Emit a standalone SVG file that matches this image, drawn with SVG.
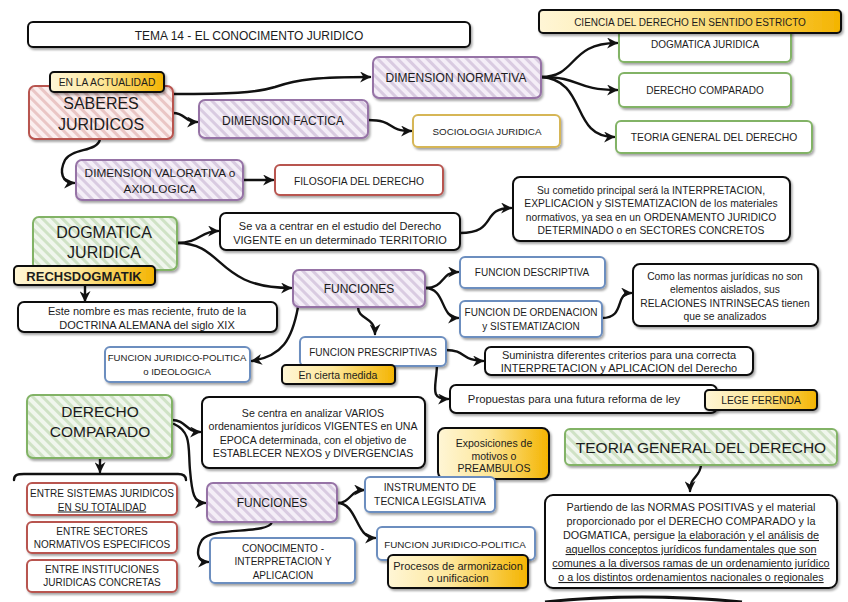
<svg xmlns="http://www.w3.org/2000/svg" width="848" height="602" viewBox="0 0 848 602">
<defs>
<style>
rect{stroke-width:2}
.sh{filter:url(#sh)}
.red{fill:url(#hr);stroke:#b85450}
.pur{fill:url(#hp);stroke:#9673a6}
.grn{fill:url(#hg);stroke:#82b366}
.gw{fill:#fff;stroke:#82b366}
.rw{fill:#fff;stroke:#b85450}
.bw{fill:#fff;stroke:#6c8ebf}
.kw{fill:#fff;stroke:#111}
.yw{fill:#fff;stroke:#d6b656}
.yl{fill:url(#gy);stroke:#111}
text{font-family:"Liberation Sans",Arial,sans-serif;fill:#1c1c1c;text-anchor:middle}
.u{text-decoration:underline}
.c{fill:none;stroke:#111;stroke-width:2.4;stroke-linecap:round}
.a{marker-end:url(#ar)}
</style>
<filter id="sh" x="-10%" y="-20%" width="130%" height="160%"><feDropShadow dx="1.5" dy="2" stdDeviation="1.2" flood-color="#000" flood-opacity="0.35"/></filter>
<pattern id="hr" width="7" height="7" patternUnits="userSpaceOnUse" patternTransform="rotate(-45)"><rect width="7" height="7" fill="#fbeeee" stroke="none"/><rect width="3" height="7" fill="#eac6c5" stroke="none"/></pattern>
<pattern id="hp" width="7" height="7" patternUnits="userSpaceOnUse" patternTransform="rotate(-45)"><rect width="7" height="7" fill="#f4eef7" stroke="none"/><rect width="3" height="7" fill="#d9cbe1" stroke="none"/></pattern>
<pattern id="hg" width="7" height="7" patternUnits="userSpaceOnUse" patternTransform="rotate(-45)"><rect width="7" height="7" fill="#f0f6ed" stroke="none"/><rect width="3" height="7" fill="#cfe2c5" stroke="none"/></pattern>
<linearGradient id="gy" x1="0" y1="0" x2="1" y2="0"><stop offset="0" stop-color="#fff6d6"/><stop offset="0.45" stop-color="#fde79a"/><stop offset="1" stop-color="#f4b400"/></linearGradient>
<marker id="ar" viewBox="0 0 10 10" refX="9" refY="5" markerWidth="11" markerHeight="11" markerUnits="userSpaceOnUse" orient="auto"><path d="M0,0 L10,5 L0,10 L3,5 Z" fill="#111"/></marker>
</defs>
<rect x="0" y="0" width="848" height="602" fill="#fff" stroke="none"/>

<g id="connectors">
<path class="c a" d="M173,94 C230,94 255,93 275,87 C298,79 320,77 370,77"/>
<path class="c a" d="M173,113 C186,113 184,122 197,122"/>
<path class="c a" d="M100,139 C98,152 72,148 65,160 C59,172 62,183 74,183"/>
<path class="c a" d="M368,120 C396,120 386,131 411,131"/>
<path class="c a" d="M243,180 L273,180"/>
<path class="c a" d="M541,77 C578,77 568,43 617,43"/>
<path class="c a" d="M541,77 C582,77 574,90 617,90"/>
<path class="c a" d="M541,77 C588,80 570,137 614,137"/>
<path class="c a" d="M177,243 C200,243 200,231 218,231"/>
<path class="c a" d="M177,243 C225,243 215,288 291,288"/>
<path class="c a" d="M85,285 L85,301"/>
<path class="c a" d="M460,233 C498,233 480,208 511,208"/>
<path class="c a" d="M425,288 C446,288 440,272 458,272"/>
<path class="c a" d="M425,288 C446,288 440,318 458,318"/>
<path class="c a" d="M358,307 C358,320 375,316 375,334"/>
<path class="c a" d="M298,307 C292,340 282,356 252,361"/>
<path class="c a" d="M602,318 C626,318 614,293 631,293"/>
<path class="c a" d="M446,350 C466,350 462,361 483,361"/>
<path class="c a" d="M437,363 C437,386 428,399 448,399"/>
<path class="c a" d="M172,420 C186,420 186,432 200,432"/>
<path class="c a" d="M174,424 C192,432 188,448 190,470 C192,494 194,503 205,503"/>
<path class="c a" d="M100,459 L100,472"/>
<path class="c" d="M14,480 C14,475 17,474 24,474 L178,474 C184,474 186,476 186,480"/>
<path class="c a" d="M337,503 C351,503 350,490 364,490"/>
<path class="c a" d="M337,503 C358,503 355,538 375,538"/>
<path class="c a" d="M272,522 C268,535 212,526 202,540 C196,550 196,562 208,562"/>
<path class="c a" d="M701,465 C700,478 690,476 690,491"/>
<path d="M545,602 Q640,592 742,602" fill="none" stroke="#111" stroke-width="3"/>
</g>

<g id="title"><rect class="kw sh" x="28" y="22" width="442" height="25" rx="5"/><text x="249" y="39.5" font-size="12">TEMA 14 - EL CONOCIMENTO JURIDICO</text></g>

<g id="dogmatica-small"><rect class="gw sh" x="619" y="28" width="172" height="34" rx="5"/><text x="705" y="48" font-size="10">DOGMATICA JURIDICA</text></g>
<g id="ciencia"><rect class="yl sh" x="539" y="10" width="302" height="23" rx="4"/><text x="690" y="25.5" font-size="10">CIENCIA DEL DERECHO EN SENTIDO ESTRICTO</text></g>
<g id="derecho-comparado-small"><rect class="gw sh" x="619" y="73" width="172" height="34" rx="5"/><text x="705" y="93.5" font-size="10">DERECHO COMPARADO</text></g>
<g id="teoria-small"><rect class="gw sh" x="616" y="121" width="196" height="32" rx="5"/><text x="714" y="140.5" font-size="10.3">TEORIA GENERAL DEL DERECHO</text></g>

<g id="dim-normativa"><rect class="pur sh" x="373" y="57" width="168" height="41" rx="6"/><text x="456" y="82" font-size="12">DIMENSION NORMATIVA</text></g>

<g id="saberes"><rect class="red sh" x="29" y="86" width="144" height="53" rx="6"/><text x="101" y="108.5" font-size="16">SABERES</text><text x="101" y="129.5" font-size="16">JURIDICOS</text></g>
<g id="en-la-actualidad"><rect class="yl sh" x="50" y="72" width="114" height="20" rx="4"/><text x="107" y="86" font-size="10.3">EN LA ACTUALIDAD</text></g>

<g id="dim-factica"><rect class="pur sh" x="199" y="100" width="169" height="38" rx="6"/><text x="283" y="124.5" font-size="12">DIMENSION FACTICA</text></g>
<g id="sociologia"><rect class="yw sh" x="413" y="115" width="147" height="32" rx="5"/><text x="487" y="134.5" font-size="9.8">SOCIOLOGIA JURIDICA</text></g>

<g id="dim-valorativa"><rect class="pur sh" x="76" y="160" width="167" height="40" rx="6"/><text x="160" y="176.5" font-size="11.8">DIMENSION VALORATIVA o</text><text x="160" y="192.5" font-size="11.8">AXIOLOGICA</text></g>
<g id="filosofia"><rect class="rw sh" x="275" y="165" width="168" height="30" rx="5"/><text x="359" y="184.5" font-size="10.3">FILOSOFIA DEL DERECHO</text></g>

<g id="dogmatica-juridica"><rect class="grn sh" x="33" y="217" width="144" height="53" rx="6"/><text x="104" y="237.5" font-size="16">DOGMATICA</text><text x="104" y="257.5" font-size="16">JURIDICA</text></g>
<g id="rechsdogmatik"><rect class="yl sh" x="14" y="266" width="141" height="19" rx="4"/><text x="84" y="280.5" font-size="13" font-weight="bold">RECHSDOGMATIK</text></g>
<g id="este-nombre"><rect class="kw sh" x="18" y="302" width="259" height="30" rx="6"/><text x="147" y="314.5" font-size="11">Este nombre es mas reciente, fruto de la</text><text x="147" y="328.5" font-size="11">DOCTRINA ALEMANA del siglo XIX</text></g>

<g id="se-va"><rect class="kw sh" x="220" y="213" width="240" height="37" rx="6"/><text x="340" y="230" font-size="11">Se va a centrar en el estudio del Derecho</text><text x="340" y="244" font-size="11">VIGENTE en un determinado TERRITORIO</text></g>
<g id="su-cometido"><rect class="kw sh" x="513" y="177" width="277" height="64" rx="7"/><text x="651" y="194" font-size="10.3">Su cometido principal será la INTERPRETACION,</text><text x="651" y="207.3" font-size="10.3">EXPLICACION y SISTEMATIZACION de los materiales</text><text x="651" y="220.6" font-size="10.3">normativos, ya sea en un ORDENAMENTO JURIDICO</text><text x="651" y="233.9" font-size="10.3">DETERMINADO o en SECTORES CONCRETOS</text></g>

<g id="funciones-1"><rect class="pur sh" x="293" y="270" width="132" height="37" rx="6"/><text x="359" y="292.5" font-size="12">FUNCIONES</text></g>
<g id="funcion-descriptiva"><rect class="bw sh" x="460" y="257" width="145" height="31" rx="5"/><text x="532" y="276" font-size="10">FUNCION DESCRIPTIVA</text></g>
<g id="funcion-ordenacion"><rect class="bw sh" x="460" y="301" width="142" height="36" rx="5"/><text x="531" y="316" font-size="10">FUNCION DE ORDENACION</text><text x="531" y="330" font-size="10">y SISTEMATIZACION</text></g>
<g id="como-las-normas"><rect class="kw sh" x="633" y="264" width="185" height="62" rx="7"/><text x="725" y="280" font-size="10.3">Como las normas jurídicas no son</text><text x="725" y="293.3" font-size="10.3">elementos aislados, sus</text><text x="725" y="306.6" font-size="10.3">RELACIONES INTRINSECAS tienen</text><text x="725" y="319.9" font-size="10.3">que se analizados</text></g>

<g id="funcion-juridico-politica-1"><rect class="bw sh" x="105" y="347" width="145" height="35" rx="5"/><text x="177" y="361" font-size="9.6">FUNCION JURIDICO-POLITICA</text><text x="177" y="375" font-size="9.6">o IDEOLOGICA</text></g>
<g id="funcion-prescriptivas"><rect class="bw sh" x="300" y="337" width="146" height="29" rx="5"/><text x="373" y="355.5" font-size="10">FUNCION PRESCRIPTIVAS</text></g>
<g id="en-cierta-medida"><rect class="yl sh" x="282" y="365" width="113" height="19" rx="4"/><text x="338" y="378.5" font-size="10.5">En cierta medida</text></g>
<g id="suministra"><rect class="kw sh" x="485" y="347" width="268" height="28" rx="6"/><text x="619" y="358.5" font-size="11">Suministra diferentes criterios para una correcta</text><text x="619" y="371.5" font-size="11">INTERPRETACION y APLICACION del Derecho</text></g>
<g id="propuestas"><rect class="kw sh" x="450" y="385" width="267" height="28" rx="6"/><text x="574" y="403" font-size="11.3">Propuestas para una futura reforma de ley</text></g>
<g id="lege-ferenda"><rect class="yl sh" x="705" y="390" width="112" height="20" rx="4"/><text x="761" y="403.5" font-size="10.3">LEGE FERENDA</text></g>

<g id="derecho-comparado"><rect class="grn sh" x="27" y="395" width="145" height="63" rx="6"/><text x="100" y="417" font-size="15.5">DERECHO</text><text x="100" y="437" font-size="15.5">COMPARADO</text></g>
<g id="se-centra"><rect class="kw sh" x="202" y="397" width="223" height="71" rx="7"/><text x="313" y="416.5" font-size="10.6">Se centra en analizar VARIOS</text><text x="313" y="430" font-size="10.6">ordenamientos jurídicos VIGENTES en UNA</text><text x="313" y="443.5" font-size="10.6">EPOCA determinada, con el objetivo de</text><text x="313" y="457" font-size="10.6">ESTABLECER NEXOS y DIVERGENCIAS</text></g>
<g id="exposiciones"><rect class="yl sh" x="438" y="428" width="111" height="51" rx="7"/><text x="494" y="446.5" font-size="10.5">Exposiciones de</text><text x="494" y="459.5" font-size="10.5">motivos o</text><text x="494" y="472" font-size="10.5">PREAMBULOS</text></g>
<g id="teoria-general"><rect class="grn sh" x="565" y="429" width="272" height="36" rx="5"/><text x="701" y="452.5" font-size="15.5">TEORIA GENERAL DEL DERECHO</text></g>

<g id="entre-sistemas"><rect class="rw sh" x="27" y="483" width="150" height="32" rx="5"/><text x="102" y="496.5" font-size="10">ENTRE SISTEMAS JURIDICOS</text><text x="102" y="510.5" font-size="10" class="u">EN SU TOTALIDAD</text></g>
<g id="entre-sectores"><rect class="rw sh" x="27" y="522" width="150" height="31" rx="5"/><text x="102" y="535" font-size="10">ENTRE SECTORES</text><text x="102" y="548" font-size="10">NORMATIVOS ESPECIFICOS</text></g>
<g id="entre-instituciones"><rect class="rw sh" x="27" y="560" width="150" height="32" rx="5"/><text x="102" y="573" font-size="10">ENTRE INSTITUCIONES</text><text x="102" y="586" font-size="10">JURIDICAS CONCRETAS</text></g>

<g id="funciones-2"><rect class="pur sh" x="207" y="483" width="130" height="39" rx="6"/><text x="272" y="506.5" font-size="12">FUNCIONES</text></g>
<g id="instrumento"><rect class="bw sh" x="365" y="477" width="130" height="35" rx="5"/><text x="430" y="491" font-size="10.3">INSTRUMENTO DE</text><text x="430" y="505" font-size="10.3">TECNICA LEGISLATIVA</text></g>
<g id="funcion-juridico-politica-2"><rect class="bw sh" x="377" y="527" width="158" height="33" rx="5"/><text x="455" y="547.5" font-size="9.8">FUNCION JURIDICO-POLITICA</text></g>
<g id="procesos"><rect class="yl sh" x="388" y="555" width="140" height="33" rx="5"/><text x="458" y="569.5" font-size="11">Procesos de armonizacion</text><text x="458" y="582" font-size="11">o unificacion</text></g>
<g id="conocimento"><rect class="bw sh" x="210" y="538" width="145" height="45" rx="5"/><text x="283" y="551.5" font-size="10">CONOCIMENTO -</text><text x="283" y="565" font-size="10">INTERPRETACION Y</text><text x="283" y="578.5" font-size="10">APLICACION</text></g>

<g id="partiendo"><rect class="kw sh" x="545" y="495" width="292" height="93" rx="8"/>
<text x="691" y="511" font-size="10.8">Partiendo de las NORMAS POSITIVAS y el material</text>
<text x="691" y="525" font-size="10.8">proporcionado por el DERECHO COMPARADO y la</text>
<text x="691" y="539" font-size="10.8">DOGMATICA, persigue <tspan class="u">la elaboración y el análisis de</tspan></text>
<text x="691" y="553" font-size="10.8" class="u">aquellos conceptos jurídicos fundamentales que son</text>
<text x="691" y="567" font-size="10.8" class="u">comunes a la diversos ramas de un ordenamiento jurídico</text>
<text x="691" y="581" font-size="10.8" class="u">o a los distintos ordenamientos nacionales o regionales</text>
</g>
</svg>
